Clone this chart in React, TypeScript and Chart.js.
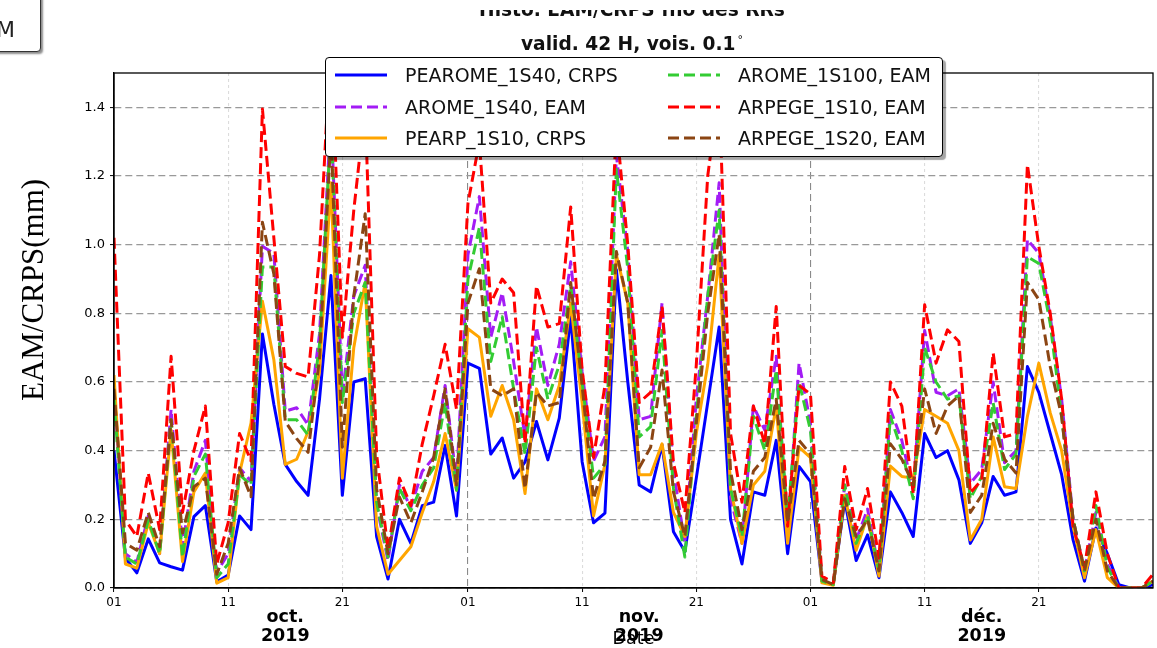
import React, { useEffect, useRef } from "react";
import { Chart, registerables } from "chart.js";

Chart.register(...registerables);

const FONT = "'DejaVu Sans', sans-serif";

// x axis: day index from 1 Oct 2019 (0) to 31 Dec 2019 (91)
const dayTicks = [0, 10, 20, 31, 41, 51, 61, 71, 81];
const dayTickLabels = ["01", "11", "21", "01", "11", "21", "01", "11", "21"];
const monthStartDays = [0, 31, 61];
const monthMidDays = [15, 46, 76];
const monthLabels = ["oct.", "nov.", "déc."];
const yearLabel = "2019";
const lastDay = 91;

const yTicks = [0, 0.2, 0.4, 0.6, 0.8, 1.0, 1.2, 1.4];
const yTickLabels = ["0.0", "0.2", "0.4", "0.6", "0.8", "1.0", "1.2", "1.4"];

const pearome1s40Crps = [
  0.40, 0.087, 0.044, 0.143, 0.073, 0.062, 0.052, 0.208, 0.24, 0.018, 0.038, 0.21, 0.17,
  0.74, 0.535, 0.36, 0.31, 0.27,
  0.55, 0.91, 0.27, 0.60, 0.61, 0.15, 0.026, 0.20, 0.13, 0.24, 0.25, 0.415, 0.21,
  0.655, 0.64, 0.39, 0.437, 0.32, 0.367, 0.485, 0.373, 0.495, 0.79, 0.368, 0.19, 0.218, 0.927, 0.6, 0.30,
  0.28, 0.417, 0.164, 0.106, 0.32, 0.54, 0.76, 0.2, 0.07, 0.28, 0.27, 0.43, 0.1, 0.354, 0.31,
  0.02, 0.01, 0.256, 0.08, 0.155, 0.03, 0.28, 0.22, 0.15, 0.45, 0.38, 0.40, 0.315, 0.13, 0.19,
  0.325, 0.27, 0.28, 0.645, 0.57, 0.45, 0.33, 0.14, 0.02, 0.175, 0.1, 0.01, 0.0, 0.0, 0.01,
];

const arome1s40Eam = [
  0.58, 0.1, 0.075, 0.21, 0.1, 0.52, 0.12, 0.34, 0.43, 0.045, 0.1, 0.35, 0.31,
  0.995, 0.975, 0.515, 0.525, 0.475,
  0.74, 1.38, 0.56, 0.85, 0.94, 0.24, 0.08, 0.30, 0.235, 0.34, 0.38, 0.59, 0.31,
  0.97, 1.14, 0.73, 0.86, 0.66, 0.44, 0.76, 0.59, 0.71, 0.95, 0.63, 0.37, 0.44, 1.26, 0.98, 0.49,
  0.5, 0.83, 0.34, 0.13, 0.55, 0.85, 1.18, 0.26, 0.13, 0.53, 0.46, 0.675, 0.16, 0.655, 0.48,
  0.02, 0.01, 0.3, 0.14, 0.23, 0.05, 0.52, 0.43, 0.285, 0.75, 0.57, 0.56, 0.58, 0.305, 0.345,
  0.6, 0.365, 0.4, 1.015, 0.975, 0.79, 0.55, 0.2, 0.05, 0.22, 0.07, 0.0, 0.0, 0.0, 0.02,
];

const pearp1s10Crps = [
  0.62, 0.07, 0.058, 0.19, 0.1, 0.46, 0.077, 0.28, 0.335, 0.014, 0.03, 0.335, 0.48,
  0.835, 0.665, 0.36, 0.375, 0.455,
  0.63, 1.18, 0.32, 0.70, 0.89, 0.18, 0.04, 0.08, 0.12, 0.22, 0.31, 0.45, 0.285,
  0.755, 0.73, 0.5, 0.59, 0.49, 0.275, 0.58, 0.49, 0.59, 0.83, 0.54, 0.21, 0.36, 0.97, 0.83, 0.33,
  0.33, 0.42, 0.22, 0.15, 0.45, 0.65, 0.97, 0.29, 0.13, 0.30, 0.34, 0.53, 0.13, 0.41, 0.38,
  0.015, 0.008, 0.27, 0.11, 0.21, 0.035, 0.355, 0.325, 0.32, 0.52, 0.5, 0.48, 0.4, 0.14, 0.2,
  0.44, 0.295, 0.29, 0.5, 0.655, 0.51, 0.4, 0.18, 0.03, 0.17, 0.03, 0.0, 0.0, 0.0, 0.02,
];

const arome1s100Eam = [
  0.55, 0.09, 0.07, 0.198, 0.1, 0.49, 0.09, 0.325, 0.39, 0.03, 0.07, 0.33, 0.30,
  0.935, 0.935, 0.49, 0.49, 0.445,
  0.71, 1.35, 0.54, 0.80, 0.89, 0.25, 0.09, 0.29, 0.225, 0.30, 0.35, 0.54, 0.285,
  0.9, 1.05, 0.66, 0.79, 0.58, 0.39, 0.70, 0.55, 0.65, 0.88, 0.6, 0.32, 0.36, 1.22, 0.93, 0.44,
  0.47, 0.75, 0.29, 0.09, 0.5, 0.85, 1.1, 0.29, 0.15, 0.5, 0.4, 0.635, 0.2, 0.6, 0.46,
  0.02, 0.01, 0.3, 0.13, 0.21, 0.05, 0.5, 0.4, 0.26, 0.7, 0.6, 0.55, 0.56, 0.26, 0.325,
  0.54, 0.345, 0.39, 0.965, 0.945, 0.77, 0.5, 0.2, 0.05, 0.24, 0.06, 0.0, 0.0, 0.0, 0.02,
];

const arpege1s10Eam = [
  1.02, 0.198, 0.15, 0.335, 0.17, 0.675, 0.22, 0.40, 0.53, 0.07, 0.19, 0.45, 0.37,
  1.395, 1.02, 0.645, 0.625, 0.615,
  0.97, 1.6, 0.73, 1.1, 1.4, 0.39, 0.11, 0.32, 0.24, 0.42, 0.56, 0.71, 0.52,
  1.12, 1.3, 0.83, 0.9, 0.86, 0.42, 0.88, 0.76, 0.77, 1.11, 0.635, 0.38, 0.59, 1.35, 1.0, 0.54,
  0.57, 0.82, 0.364, 0.22, 0.65, 1.2, 1.45, 0.45, 0.25, 0.53, 0.42, 0.82, 0.18, 0.59, 0.565,
  0.035, 0.015, 0.354, 0.17, 0.29, 0.087, 0.6, 0.53, 0.277, 0.825, 0.655, 0.752, 0.718, 0.277, 0.315,
  0.685, 0.44, 0.45, 1.233, 0.995, 0.8, 0.55, 0.18, 0.06, 0.28, 0.1, 0.0, 0.0, 0.0, 0.04,
];

const arpege1s20Eam = [
  0.58, 0.13, 0.11, 0.22, 0.12, 0.49, 0.16, 0.295, 0.32, 0.04, 0.13, 0.35, 0.266,
  1.065, 0.915, 0.485, 0.435, 0.395,
  0.67, 1.32, 0.41, 0.85, 1.09, 0.29, 0.10, 0.265, 0.19, 0.28, 0.38, 0.58, 0.30,
  0.83, 0.93, 0.58, 0.56, 0.58, 0.29, 0.57, 0.53, 0.54, 0.89, 0.59, 0.26, 0.37, 0.98, 0.83, 0.35,
  0.41, 0.635, 0.28, 0.15, 0.48, 0.8, 1.03, 0.34, 0.17, 0.34, 0.38, 0.55, 0.19, 0.43, 0.39,
  0.025, 0.01, 0.26, 0.15, 0.2, 0.05, 0.42, 0.375, 0.3, 0.58, 0.45, 0.53, 0.56, 0.22, 0.27,
  0.48, 0.375, 0.335, 0.89, 0.84, 0.645, 0.5, 0.2, 0.05, 0.2, 0.05, 0.0, 0.0, 0.0, 0.02,
];

const seriesNames = [
  "PEAROME_1S40, CRPS",
  "AROME_1S40, EAM",
  "PEARP_1S10, CRPS",
  "AROME_1S100, EAM",
  "ARPEGE_1S10, EAM",
  "ARPEGE_1S20, EAM",
];
const seriesValues = [pearome1s40Crps, arome1s40Eam, pearp1s10Crps, arome1s100Eam, arpege1s10Eam, arpege1s20Eam];
const seriesColors = ["#0000ff", "#a31cf5", "#ffa500", "#33cc33", "#ff0000", "#8b4513"];
const seriesDashed = [false, true, false, true, true, true];

const DASH = [11, 5];

const decorPlugin = {
  id: "decor",
  afterDatasetsDraw(chart: any) {
    const { ctx, chartArea: a } = chart;
    ctx.save();
    ctx.strokeStyle = "#000";
    ctx.lineWidth = 1.3;
    ctx.setLineDash([]);
    ctx.strokeRect(a.left, a.top, a.right - a.left, a.bottom - a.top);
    ctx.restore();
  },
  afterDraw(chart: any) {
    const { ctx, chartArea: a, scales } = chart;
    const xs = scales.x;
    ctx.save();
    ctx.fillStyle = "#000";
    ctx.textAlign = "center";
    ctx.textBaseline = "alphabetic";
    ctx.font = `bold 17.5px ${FONT}`;
    monthMidDays.forEach((d, i) => {
      const px = xs.getPixelForValue(d);
      ctx.fillText(monthLabels[i], px, 622);
      ctx.fillText(yearLabel, px, 641);
    });
    ctx.font = `17.5px ${FONT}`;
    ctx.fillText("Date", (a.left + a.right) / 2, 644);
    ctx.restore();
  },
};

function LegendItem({ color, dashed, label, left, top }: any) {
  return (
    <div style={{ position: "absolute", left, top, height: 20, display: "flex", alignItems: "center", whiteSpace: "nowrap" }}>
      <svg width={52} height={8} style={{ display: "block" }}>
        <line x1={0} y1={4} x2={52} y2={4} stroke={color} strokeWidth={3} strokeDasharray={dashed ? DASH.join(" ") : undefined} />
      </svg>
      <span style={{ marginLeft: 18, font: `19px ${FONT}`, color: "#111", lineHeight: "20px" }}>{label}</span>
    </div>
  );
}

export default function App() {
  const canvasRef = useRef<HTMLCanvasElement | null>(null);

  useEffect(() => {
    const canvas = canvasRef.current;
    if (!canvas) return;
    const datasets = seriesValues.map((vals, si) => ({
      label: seriesNames[si],
      data: vals.map((v, i) => ({ x: i, y: v })),
      borderColor: seriesColors[si],
      backgroundColor: seriesColors[si],
      borderWidth: 3,
      borderDash: seriesDashed[si] ? DASH : [],
      borderJoinStyle: "round" as const,
      borderCapStyle: "butt" as const,
      pointRadius: 0,
      fill: false,
      tension: 0,
      clip: 0,
      order: seriesValues.length - 1 - si,
    }));

    const chart = new Chart(canvas, {
      type: "line",
      data: { datasets },
      plugins: [decorPlugin],
      options: {
        animation: false,
        responsive: false,
        maintainAspectRatio: false,
        devicePixelRatio: 1,
        layout: { padding: { left: 0, right: 4, top: 73, bottom: 0 } },
        plugins: { legend: { display: false }, tooltip: { enabled: false }, title: { display: false } },
        scales: {
          x: {
            type: "linear",
            min: 0,
            max: lastDay,
            afterBuildTicks: (s: any) => {
              s.ticks = dayTicks.map((v) => ({ value: v }));
            },
            afterFit: (s: any) => {
              s.height = 60;
            },
            ticks: {
              autoSkip: false,
              maxRotation: 0,
              minRotation: 0,
              color: "#000",
              padding: 4,
              font: { family: FONT, size: 12 },
              callback: (v: any) => {
                const i = dayTicks.indexOf(Number(v));
                return i >= 0 ? dayTickLabels[i] : "";
              },
            },
            grid: {
              color: (c: any) => (c.tick && monthStartDays.includes(c.tick.value) ? "#8a8a8a" : "#dcdcdc"),
              lineWidth: 1.1,
              tickLength: 4,
              tickColor: "#000",
              tickWidth: 1,
            },
            border: {
              display: true,
              color: "#000",
              width: 1.3,
              dash: (c: any) => (c.tick && monthStartDays.includes(c.tick.value) ? [7, 4] : [3, 3]),
            },
          },
          y: {
            type: "linear",
            min: 0,
            max: 1.5,
            afterBuildTicks: (s: any) => {
              s.ticks = yTicks.map((v) => ({ value: v }));
            },
            afterFit: (s: any) => {
              s.width = 114;
            },
            ticks: {
              color: "#000",
              padding: 5,
              font: { family: FONT, size: 13 },
              callback: (_v: any, i: number) => yTickLabels[i],
            },
            grid: {
              color: "#999",
              lineWidth: 1.2,
              tickLength: 4,
              tickColor: "#000",
              tickWidth: 1,
            },
            border: { display: true, color: "#000", width: 1.3, dash: [7, 4] },
          },
        },
      },
    } as any);
    return () => chart.destroy();
  }, []);

  return (
    <div style={{ position: "fixed", left: 0, top: 0, width: 1157, height: 648, background: "#fff", overflow: "hidden" }}>
      <canvas ref={canvasRef} width={1157} height={648} style={{ position: "absolute", left: 0, top: 0, width: 1157, height: 648 }} />

      {/* partially visible toolbar button */}
      <div style={{ position: "absolute", left: -20, top: -6, width: 61, height: 58, border: "1.5px solid #333", borderRadius: 4, boxShadow: "2px 2px 2px rgba(0,0,0,0.45)", background: "#fff", boxSizing: "border-box" }}>
        <span style={{ position: "absolute", left: 15, top: 24, font: `22px ${FONT}`, lineHeight: "22px", color: "#222" }}>M</span>
      </div>

      {/* title line 1, partly hidden */}
      <div style={{ position: "absolute", left: 0, top: 10, width: 1157, height: 9, overflow: "hidden" }}>
        <div style={{ position: "absolute", left: 0, width: 1264, top: -8.7, textAlign: "center", font: `bold 18.6px ${FONT}`, lineHeight: "18.6px", color: "#111" }}>
          Histo. EAM/CRPS fno des RRs
        </div>
      </div>
      {/* title line 2 */}
      <div style={{ position: "absolute", left: 0, width: 1264, top: 30.5, textAlign: "center", font: `bold 18.6px ${FONT}`, lineHeight: "18.6px", color: "#111" }}>
        valid. 42 H, vois. 0.1<sup style={{ fontSize: 11, fontWeight: "normal", verticalAlign: 7, marginLeft: 2 }}>°</sup>
      </div>

      {/* y axis title */}
      <div style={{ position: "absolute", left: 33, top: 290, transform: "translate(-50%, -50%) rotate(-90deg)", font: `31px 'Liberation Serif', 'Times New Roman', serif`, color: "#000", whiteSpace: "nowrap" }}>
        EAM/CRPS(mm)
      </div>

      {/* legend */}
      <div style={{ position: "absolute", left: 325, top: 57, width: 618, height: 100, border: "1.5px solid #000", borderRadius: 4, background: "#fff", boxShadow: "3px 3px 1px rgba(0,0,0,0.35)", boxSizing: "border-box" }}>
        {seriesNames.map((name, i) => {
          const col = i < 3 ? 0 : 1;
          const row = i % 3;
          return (
            <LegendItem key={name} color={seriesColors[i]} dashed={seriesDashed[i]} label={name} left={col === 0 ? 9 : 342} top={7 + row * 31.5} />
          );
        })}
      </div>
    </div>
  );
}
